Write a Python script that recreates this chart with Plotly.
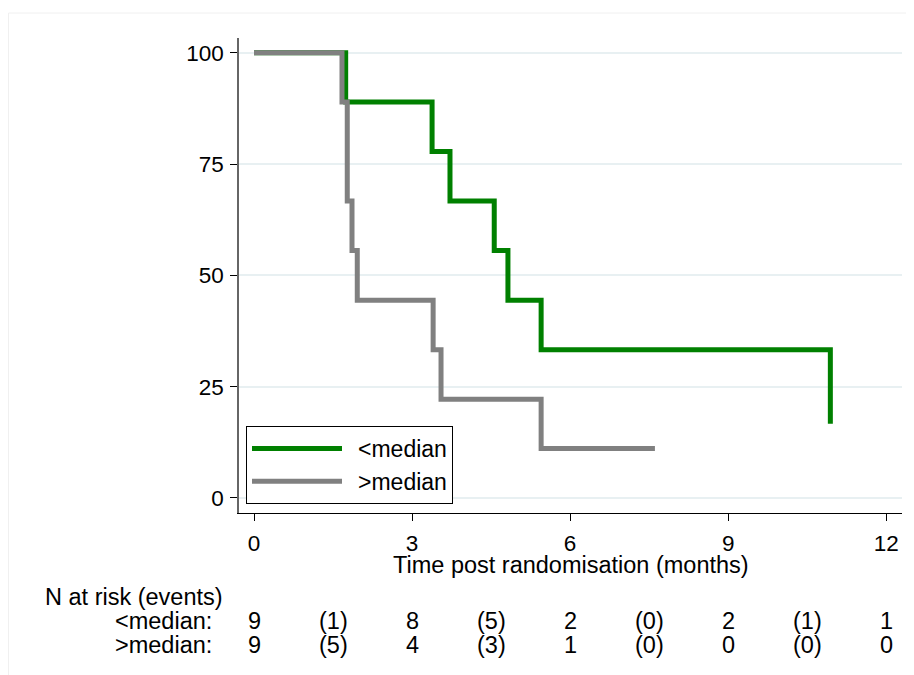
import plotly.graph_objects as go

# ---- data ----
below_time = [0, 1.74, 3.38, 3.72, 4.56, 4.82, 5.45, 10.94]
below_surv = [100, 88.9, 77.8, 66.7, 55.6, 44.4, 33.3, 16.7]
above_time = [0, 1.67, 1.77, 1.86, 1.96, 3.40, 3.55, 5.45, 7.61]
above_surv = [100, 88.9, 66.7, 55.6, 44.4, 33.3, 22.2, 11.1, 11.1]

x_ticks = [0, 3, 6, 9, 12]
y_ticks = [0, 25, 50, 75, 100]

risk_x = [0, 1.5, 3, 4.5, 6, 7.5, 9, 10.5, 12]
risk_below = ["9", "(1)", "8", "(5)", "2", "(0)", "2", "(1)", "1"]
risk_above = ["9", "(5)", "4", "(3)", "1", "(0)", "0", "(0)", "0"]
group_labels = ["<median", ">median"]
x_title = "Time post randomisation (months)"

FONT = "Liberation Sans, Arial, Helvetica, sans-serif"
FS_TICK = 22.5
FS = 23.5
FS_LEG = 23

# figure geometry (page has an 8px body margin)
W, H = 906, 667
ML, MR, MT, MB = 231, 12, 30, 162
PW, PH = W - ML - MR, H - MT - MB

fig = go.Figure()
fig.add_trace(go.Scatter(x=below_time, y=below_surv, mode="lines",
                         name="\u00a0\u2009" + group_labels[0],
                         line=dict(color="#008000", width=5, shape="hv")))
fig.add_trace(go.Scatter(x=above_time, y=above_surv, mode="lines",
                         name="\u00a0\u2009" + group_labels[1],
                         line=dict(color="#808080", width=5, shape="hv")))


def py(pix):
    return (MT + PH - pix) / PH


def px(pix):
    return (pix - ML) / PW


fig.update_layout(
    width=W, height=H,
    margin=dict(l=ML, r=MR, t=MT, b=MB),
    paper_bgcolor="white", plot_bgcolor="white",
    font=dict(family=FONT, size=FS, color="black"),
    showlegend=True,
    legend=dict(x=px(238), y=py(496), xanchor="left", yanchor="bottom",
                bordercolor="black", borderwidth=1, bgcolor="white",
                font=dict(size=FS_LEG), itemwidth=90, tracegroupgap=0),
    xaxis=dict(range=[-0.285, 12.30], tickvals=x_ticks, ticks="outside", ticklen=7,
               tickcolor="black", showline=True, linecolor="black", linewidth=1,
               showgrid=False, zeroline=False, ticklabelstandoff=3,
               tickfont=dict(size=FS_TICK)),
    yaxis=dict(range=[-3.37, 103.3], tickvals=y_ticks, ticks="outside", ticklen=7,
               tickcolor="black", showline=True, linecolor="#666666", linewidth=1.5,
               showgrid=True, gridcolor="#e8f0f2", gridwidth=1.5, zeroline=False,
               ticklabelstandoff=2, tickfont=dict(size=FS_TICK)),
)

annotations = [
    dict(text=x_title, x=0.5008, xref="paper", y=py(557), yref="paper",
         showarrow=False, xanchor="center", yanchor="middle"),
    dict(text="N at risk (events)", x=px(35), xref="paper", y=py(589), yref="paper",
         showarrow=False, xanchor="left", yanchor="middle"),
]
rows = [py(613), py(637)]
for lab, yy in zip(group_labels, rows):
    annotations.append(dict(text=lab.replace("<", "&lt;").replace(">", "&gt;") + ":",
                            x=px(206), xref="paper", y=yy, yref="paper",
                            showarrow=False, xanchor="right", yanchor="middle"))
for xv, a, b in zip(risk_x, risk_below, risk_above):
    annotations.append(dict(text=a, x=xv, xref="x", y=rows[0], yref="paper",
                            showarrow=False, xanchor="center", yanchor="middle"))
    annotations.append(dict(text=b, x=xv, xref="x", y=rows[1], yref="paper",
                            showarrow=False, xanchor="center", yanchor="middle"))
fig.update_layout(annotations=annotations)

# faint outer graph-region border
fig.add_shape(type="line", xref="paper", yref="paper", x0=px(0.5), x1=px(0.5), y0=py(5), y1=py(H + 20),
              line=dict(color="#f0f0f0", width=1))
fig.add_shape(type="line", xref="paper", yref="paper", x0=px(0.5), x1=px(W + 20), y0=py(5), y1=py(5),
              line=dict(color="#f0f0f0", width=1))

fig.write_html("out.html")
